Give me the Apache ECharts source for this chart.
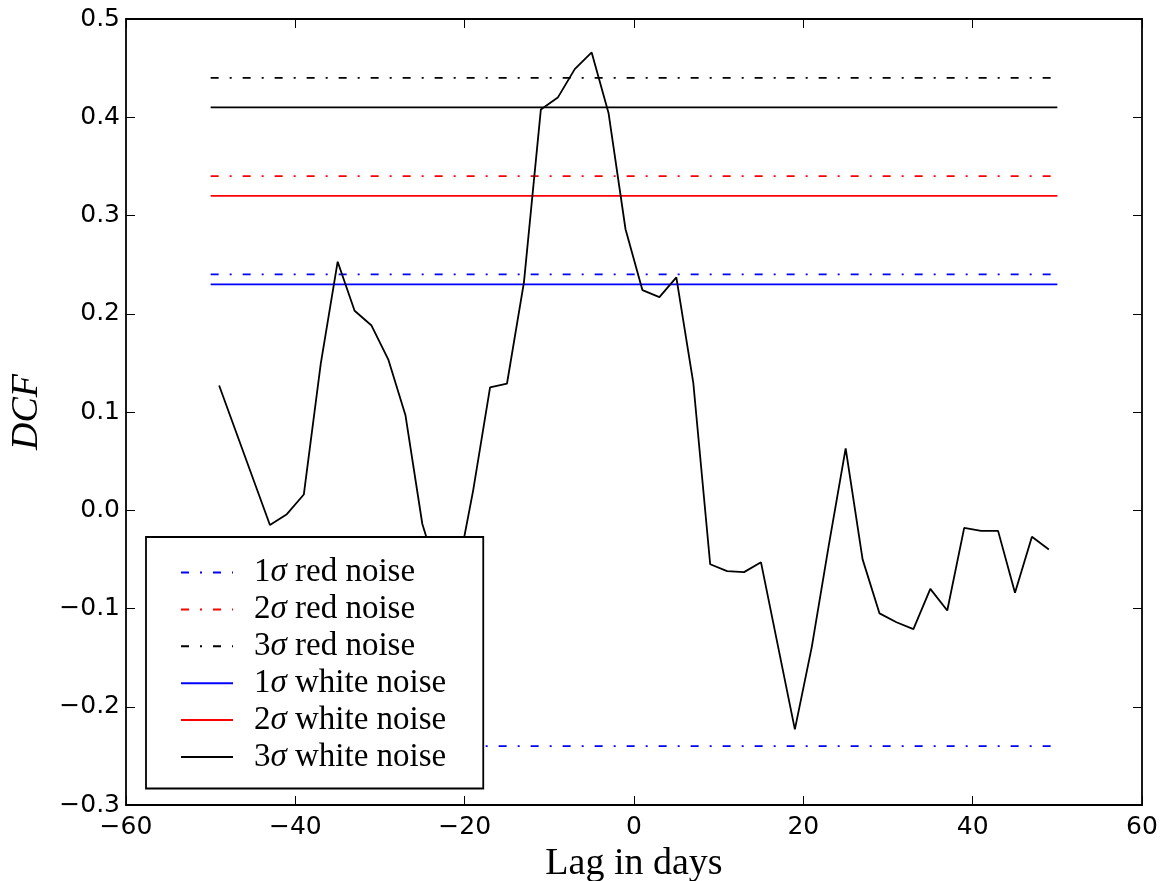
<!DOCTYPE html>
<html>
<head>
<meta charset="utf-8">
<script src="https://cdn.jsdelivr.net/npm/echarts@6/dist/echarts.min.js"></script>
<style>
html,body{margin:0;padding:0;background:#fff;}
#chart{width:1173px;height:881px;}
</style>
</head>
<body>
<div id="chart"></div>
<script>
// DCF curve (lag in days, DCF value)
const lags = [-49, -43, -41, -39, -37, -35, -33, -31, -29, -27, -25, -23, -21, -19, -17, -15, -13, -11, -9, -7, -5, -3, -1, 1, 3, 5, 7, 9, 11, 13, 15, 19, 21, 23, 25, 27, 29, 31, 33, 35, 37, 39, 41, 43, 45, 47, 49];
const dcf = [0.127, -0.015, -0.004, 0.016, 0.149, 0.253, 0.203, 0.188, 0.153, 0.097, -0.014, -0.07, -0.07, 0.02, 0.125, 0.129, 0.232, 0.408, 0.420, 0.449, 0.466, 0.404, 0.286, 0.224, 0.217, 0.237, 0.130, -0.055, -0.062, -0.063, -0.053, -0.223, -0.139, -0.036, 0.063, -0.050, -0.105, -0.114, -0.121, -0.080, -0.102, -0.018, -0.021, -0.021, -0.084, -0.027, -0.040];

// significance levels
const levelNames = ['1σ red noise', '2σ red noise', '3σ red noise', '1σ white noise', '2σ white noise', '3σ white noise'];
const levelValues = [0.24, 0.34, 0.44, 0.23, 0.32, 0.41];
const levelColors = ['#0000ff', '#ff0000', '#000000', '#0000ff', '#ff0000', '#000000'];
const levelDashed = [true, true, true, false, false, false];
const lowerRedNoise1 = -0.24;
const levelSpan = [-50, 50];

const xTicks = {min: -60, max: 60, interval: 20};
const yTicks = {min: -0.3, max: 0.5, interval: 0.1};

const fmtMinus = s => s.replace('-', '\u2212');
const dashDot = [8, 11, 2, 11];
const chart = echarts.init(document.getElementById('chart'), null, {renderer: 'canvas'});

const series = [];
levelNames.forEach((n, i) => {
  series.push({
    name: n, type: 'line', xAxisIndex: 0, yAxisIndex: 0,
    data: [[levelSpan[0], levelValues[i]], [levelSpan[1], levelValues[i]]],
    symbol: 'none', silent: true, animation: false,
    itemStyle: {color: levelColors[i]},
    lineStyle: {color: levelColors[i], width: 1.8, type: levelDashed[i] ? dashDot : 'solid'},
    z: 2
  });
});
series.push({
  name: '1σ red noise', type: 'line',
  data: [[levelSpan[0], lowerRedNoise1], [levelSpan[1], lowerRedNoise1]],
  symbol: 'none', silent: true, animation: false,
  itemStyle: {color: levelColors[0]},
  lineStyle: {color: levelColors[0], width: 1.8, type: dashDot}, z: 2
});
series.push({
  name: 'DCF', type: 'line',
  data: lags.map((l, i) => [l, dcf[i]]),
  symbol: 'none', silent: true, animation: false,
  lineStyle: {color: '#000', width: 1.8}, itemStyle: {color: '#000'}, z: 3
});

const axisLineStyle = {onZero: false, lineStyle: {color: '#000', width: 1.8}};
const tickStyle = {inside: true, length: 9, lineStyle: {color: '#000', width: 1}};
const tickFont = {fontFamily: 'DejaVu Sans', fontSize: 25, color: '#000'};

chart.setOption({
  animation: false,
  backgroundColor: '#fff',
  grid: {left: 126, right: 31, top: 19, bottom: 76, containLabel: false, outerBoundsMode: 'none'},
  xAxis: [{
    type: 'value', position: 'bottom', min: xTicks.min, max: xTicks.max, interval: xTicks.interval,
    axisLine: axisLineStyle, axisTick: tickStyle, splitLine: {show: false},
    axisLabel: Object.assign({margin: 10, formatter: v => fmtMinus(String(v))}, tickFont),
    name: 'Lag in days', nameLocation: 'middle', nameGap: 39,
    nameTextStyle: {fontFamily: 'Liberation Serif', fontSize: 38, color: '#000'}
  }, {
    type: 'value', position: 'top', min: xTicks.min, max: xTicks.max, interval: xTicks.interval,
    axisLine: axisLineStyle, axisTick: tickStyle, axisLabel: {show: false}, splitLine: {show: false}
  }],
  yAxis: [{
    type: 'value', position: 'left', min: yTicks.min, max: yTicks.max, interval: yTicks.interval,
    axisLine: axisLineStyle, axisTick: tickStyle, splitLine: {show: false},
    axisLabel: Object.assign({margin: 6, formatter: v => fmtMinus((Math.round(v * 10) / 10).toFixed(1))}, tickFont),
    name: 'DCF', nameLocation: 'middle', nameGap: 80, nameRotate: 90,
    nameTextStyle: {fontFamily: 'Liberation Serif', fontStyle: 'italic', fontSize: 38, color: '#000'}
  }, {
    type: 'value', position: 'right', min: yTicks.min, max: yTicks.max, interval: yTicks.interval,
    axisLine: axisLineStyle, axisTick: tickStyle, axisLabel: {show: false}, splitLine: {show: false}
  }],
  legend: {
    data: levelNames,
    orient: 'vertical', left: 146, top: 537,
    backgroundColor: '#fff', borderColor: '#000', borderWidth: 1.8, borderRadius: 0,
    padding: [19, 37, 15, 34],
    itemWidth: 52, itemHeight: 4, itemGap: 3.9,
    itemStyle: {opacity: 0, borderWidth: 0},
    selectedMode: false,
    formatter: n => n.replace('σ', '{i|σ}'),
    textStyle: {
      fontFamily: 'Liberation Serif', fontSize: 33, lineHeight: 30, color: '#000',
      padding: [0, 0, 0, 16],
      rich: {i: {fontFamily: 'Liberation Serif', fontStyle: 'italic', fontSize: 33, lineHeight: 30, color: '#000'}}
    }
  },
  series: series
});
</script>
</body>
</html>
